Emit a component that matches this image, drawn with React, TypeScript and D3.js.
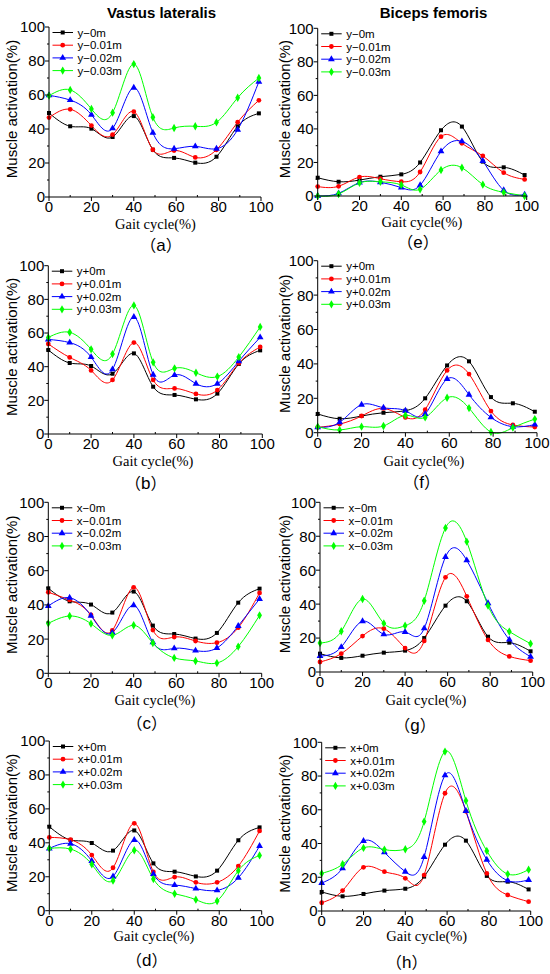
import React from "react";
import * as d3 from "d3";

// gait cycle positions of the samples (%)
const gaitX = [0, 10, 20, 30, 40, 49, 59, 69, 79, 89, 99];

const yTicks = [0, 20, 40, 60, 80, 100];
const xTicks = [0, 20, 40, 60, 80, 100];

const colors = ["#000000", "#ff0000", "#0000ff", "#00ff00"];
const symbols = [d3.symbolSquare, d3.symbolCircle, d3.symbolTriangle, d3.symbolDiamond];
const symbolSizes = [16, 18, 20, 20];

const legendYMinus = ["y\u22120m", "y\u22120.01m", "y\u22120.02m", "y\u22120.03m"];
const legendYPlus = ["y+0m", "y+0.01m", "y+0.02m", "y+0.03m"];
const legendXMinus = ["x\u22120m", "x\u22120.01m", "x\u22120.02m", "x\u22120.03m"];
const legendXPlus = ["x+0m", "x+0.01m", "x+0.02m", "x+0.03m"];

// Vastus lateralis
const seriesA = [
  [49.4, 41.6, 40.2, 35.3, 47.6, 27.8, 23, 20.2, 23.7, 41.6, 49.2],
  [46.7, 51.6, 42, 36.7, 50.2, 27.8, 27.3, 23.3, 27.8, 44, 56.9],
  [59.8, 57, 48.4, 40.4, 64.3, 37.8, 28.4, 29.8, 28.4, 39.6, 67.8],
  [59.6, 63, 51.8, 49.6, 78.2, 46.9, 40.6, 41.6, 43.9, 58.4, 70],
];
const seriesB = [
  [49.9, 42.2, 40.4, 35.8, 47.9, 28.1, 23.2, 20.6, 24, 41.6, 49.7],
  [53.5, 45.5, 37.8, 32.1, 54.3, 32.1, 27.1, 23.8, 26.1, 42, 51.7],
  [56.2, 54.3, 45.7, 38.4, 69.5, 35.2, 35, 29.9, 29.9, 43.2, 57.4],
  [57.4, 60.4, 50.3, 47.5, 76.4, 42.6, 39, 36.4, 34.1, 45.7, 63.6],
];
const seriesC = [
  [49.7, 42.1, 40.2, 35.5, 47.8, 27.9, 23, 20.3, 23.6, 41.3, 49.5],
  [47.4, 42.9, 34.1, 25.1, 50.3, 25.3, 21.2, 18.9, 17.9, 26.7, 47],
  [39.4, 44.2, 33.7, 23.8, 39.8, 18.1, 14.6, 13.3, 14.8, 27.7, 43.5],
  [29.2, 33.5, 29, 22.2, 28.1, 17.7, 9, 7.2, 6, 15.6, 33.9],
];
const seriesD = [
  [49.5, 41.7, 39.9, 35.4, 47.3, 27.9, 23, 20.2, 23.6, 41.5, 49.1],
  [43.2, 41.8, 32.8, 25.3, 51.5, 22.8, 19.8, 16.7, 16.7, 26.3, 47],
  [36.7, 39.5, 29.3, 20.2, 41.7, 21.6, 15.1, 13, 12, 19.4, 38.1],
  [36.7, 36.3, 27.3, 17.7, 35.6, 18.7, 10, 6.5, 5.7, 23.6, 32.6],
];

// Biceps femoris
const seriesE = [
  [10.9, 8.5, 9.5, 11.5, 12.9, 20, 39.2, 41.4, 20.5, 17.1, 12.5],
  [5.6, 5.8, 11.3, 10.3, 8.5, 14.3, 35.4, 31.4, 23.9, 13.9, 9.9],
  [0, 1.6, 8, 8.2, 5, 6.4, 26.6, 32.6, 20.9, 3.4, 0.8],
  [0, 1.2, 7.8, 8.5, 6.6, 4, 15.5, 16.9, 6.8, 2.2, 0],
];
const seriesF = [
  [10.9, 8.1, 9.7, 11.6, 12.8, 20, 39.1, 41.5, 20.7, 17.1, 12.2],
  [3.1, 5, 9.7, 14.1, 8.9, 13.4, 36.2, 34.1, 12.6, 4.5, 3.3],
  [3.1, 6, 16.3, 14.5, 12.8, 10.9, 31.2, 22.1, 8.9, 3.5, 4.7],
  [3.5, 1.6, 3.5, 3.9, 10.1, 8.9, 20.3, 14.3, 0.4, 2.9, 7.9],
];
const seriesG = [
  [10.8, 8.3, 9.6, 11.4, 12.6, 20, 39.1, 41.7, 20.8, 17.3, 12.2],
  [5.9, 10.8, 21.2, 25.5, 14.1, 18.3, 55.8, 44.6, 18.9, 9.2, 6.7],
  [9.4, 14.7, 29.9, 22.2, 23.6, 25.7, 67.8, 65.8, 40.5, 19.1, 9],
  [17.1, 24, 43, 28.7, 27.3, 42, 84.9, 76.8, 39.1, 23.8, 16.7],
];
const seriesH = [
  [11.3, 8.7, 10.1, 12.1, 13.2, 20.4, 39.3, 41.7, 20.8, 17.4, 12.8],
  [4.9, 12.1, 25.9, 23.3, 19.4, 21.3, 69.8, 59.1, 22.3, 9.5, 5.5],
  [16.6, 25.3, 41.5, 34.8, 23.3, 32, 80.4, 59.3, 30.4, 18, 18.4],
  [22.3, 27.7, 37.4, 36.4, 36.6, 53, 94.5, 65.4, 35.6, 21.9, 24.5],
];

interface PanelProps {
  left: number;
  right: number;
  top: number;
  bottom: number;
  series: number[][];
  legend: string[];
  tag: string;
  tagX: number;
  tagY: number;
  gaitX0: number;
  gaitY: number;
  yLabelX: number;
}

const sans = "Liberation Sans, Arial, sans-serif";

const Panel: React.FC<PanelProps> = ({
  left, right, top, bottom, series, legend, tag, tagX, tagY, gaitX0, gaitY, yLabelX,
}) => {
  const x = d3.scaleLinear().domain([0, 100]).range([left, right]);
  const y = d3.scaleLinear().domain([0, 100]).range([bottom, top]);
  const line = d3
    .line<number>()
    .x((_, i) => x(gaitX[i]))
    .y((d) => y(d))
    .curve(d3.curveNatural);
  const minorX = d3.range(10, 100, 20);
  const minorY = d3.range(10, 100, 20);

  return (
    <g>
      {series.map((s, i) => (
        <path key={"l" + i} d={line(s) || ""} fill="none" stroke={colors[i]} strokeWidth={1} />
      ))}
      {series.map((s, i) =>
        s.map((v, j) => (
          <path
            key={"m" + i + "-" + j}
            transform={`translate(${x(gaitX[j])},${y(v)})`}
            d={d3.symbol(symbols[i], symbolSizes[i])() || ""}
            fill={colors[i]}
          />
        ))
      )}

      {/* axes */}
      <line x1={left} x2={left} y1={top} y2={bottom} stroke="#000" />
      <line x1={left} x2={right} y1={bottom} y2={bottom} stroke="#000" />
      {yTicks.map((t) => (
        <g key={"yt" + t}>
          <line x1={left - 4} x2={left} y1={y(t)} y2={y(t)} stroke="#000" />
          <text x={left - 4} y={y(t)} dy="0.36em" textAnchor="end" fontSize={15} fontFamily={sans}>
            {t}
          </text>
        </g>
      ))}
      {minorY.map((t) => (
        <line key={"ym" + t} x1={left - 2} x2={left} y1={y(t)} y2={y(t)} stroke="#000" />
      ))}
      {xTicks.map((t) => (
        <g key={"xt" + t}>
          <line x1={x(t)} x2={x(t)} y1={bottom} y2={bottom + 4} stroke="#000" />
          <text x={x(t)} y={bottom + 15} textAnchor="middle" fontSize={15} fontFamily={sans}>
            {t}
          </text>
        </g>
      ))}
      {minorX.map((t) => (
        <line key={"xm" + t} x1={x(t)} x2={x(t)} y1={bottom} y2={bottom - 2} stroke="#000" />
      ))}

      {/* axis labels */}
      <text
        transform={`translate(${yLabelX},${(top + bottom) / 2 - 3}) rotate(-90)`}
        textAnchor="middle"
        dy="0.35em"
        fontSize={15}
        fontFamily={sans}
      >
        Muscle activation(%)
      </text>
      <text
        x={gaitX0}
        y={gaitY}
        dy="0.35em"
        textAnchor="middle"
        fontSize={14.5}
        fontFamily="Liberation Serif, Times New Roman, serif"
      >
        Gait cycle(%)
      </text>
      <text x={tagX} y={tagY} dy="0.35em" textAnchor="middle" fontSize={16} fontFamily={sans}>
        <tspan fontFamily="Noto Sans CJK SC">{"（"}</tspan>
        <tspan fontSize={17}>{tag}</tspan>
        <tspan fontFamily="Noto Sans CJK SC">{"）"}</tspan>
      </text>

      {/* legend */}
      {legend.map((name, i) => {
        const ly = top + 5.5 + i * 12.7;
        return (
          <g key={"lg" + i}>
            <line x1={left + 3.5} x2={left + 24} y1={ly} y2={ly} stroke={colors[i]} />
            <path
              transform={`translate(${left + 13.7},${ly})`}
              d={d3.symbol(symbols[i], symbolSizes[i])() || ""}
              fill={colors[i]}
            />
            <text x={left + 28.5} y={ly} dy="0.35em" fontSize={11.5} fontFamily={sans}>
              {name}
            </text>
          </g>
        );
      })}
    </g>
  );
};

export default function App() {
  return (
    <svg
      width={550}
      height={974}
      style={{ position: "absolute", left: 0, top: 0, background: "#fff" }}
    >
      <text x={161.5} y={12.5} dy="0.35em" textAnchor="middle" fontSize={15} fontWeight="bold"
        fontFamily={sans}>
        Vastus lateralis
      </text>
      <text x={433.5} y={12.5} dy="0.35em" textAnchor="middle" fontSize={15} fontWeight="bold"
        fontFamily={sans}>
        Biceps femoris
      </text>

      <Panel left={49} right={261} top={27} bottom={197} series={seriesA} legend={legendYMinus}
        tag="a" tagX={161} tagY={245.5} gaitX0={155.5} gaitY={224.3} yLabelX={12} />
      <Panel left={48.3} right={262.3} top={265.7} bottom={434} series={seriesB} legend={legendYPlus}
        tag="b" tagX={145.7} tagY={483.5} gaitX0={153} gaitY={461.2} yLabelX={12} />
      <Panel left={48.3} right={261.7} top={502.3} bottom={673.3} series={seriesC} legend={legendXMinus}
        tag="c" tagX={146.7} tagY={723.5} gaitX0={155} gaitY={700.2} yLabelX={12} />
      <Panel left={49.3} right={261.7} top={741} bottom={910.7} series={seriesD} legend={legendXPlus}
        tag="d" tagX={146.7} tagY={960.5} gaitX0={154} gaitY={936.2} yLabelX={12} />

      <Panel left={317.7} right={526.7} top={28.3} bottom={196} series={seriesE} legend={legendYMinus}
        tag="e" tagX={418} tagY={242.5} gaitX0={422} gaitY={222.2} yLabelX={285} />
      <Panel left={317.7} right={537} top={260.7} bottom={432.7} series={seriesF} legend={legendYPlus}
        tag="f" tagX={421.7} tagY={482.2} gaitX0={424} gaitY={460.5} yLabelX={285} />
      <Panel left={320} right={532.7} top={502.3} bottom={672} series={seriesG} legend={legendXMinus}
        tag="g" tagX={415} tagY={725.5} gaitX0={426} gaitY={699.5} yLabelX={285} />
      <Panel left={321.7} right={530.7} top={742.3} bottom={911} series={seriesH} legend={legendXPlus}
        tag="h" tagX={406.7} tagY={962.2} gaitX0={426.7} gaitY={936.2} yLabelX={285} />
    </svg>
  );
}
